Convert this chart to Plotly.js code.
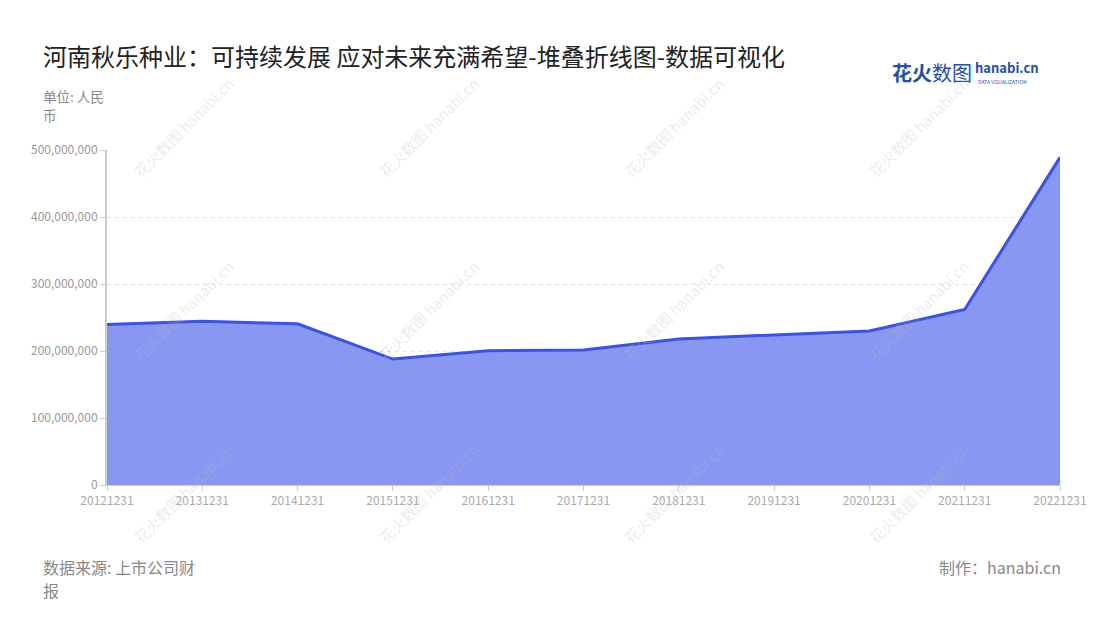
<!DOCTYPE html>
<html>
<head>
<meta charset="utf-8">
<script src="https://cdn.plot.ly/plotly-3.0.1.min.js"></script>
<style>
html,body{margin:0;padding:0;background:#fff;}
#chart{width:1100px;height:620px;}
</style>
</head>
<body>
<div id="chart"></div>
<script>
var categories = ["20121231","20131231","20141231","20151231","20161231","20171231","20181231","20191231","20201231","20211231","20221231"];
var values = [239500000, 244500000, 240500000, 188000000, 200500000, 201500000, 218000000, 224000000, 230000000, 262000000, 489000000];
var yTicks = [0, 100000000, 200000000, 300000000, 400000000, 500000000];

var FONT = '"Noto Sans CJK SC", "Noto Sans", sans-serif';

var trace = {
  type: 'scatter',
  mode: 'lines',
  x: categories,
  y: values,
  fill: 'tozeroy',
  fillcolor: 'rgb(136,151,241)',
  line: {color: 'rgb(58,82,232)', width: 3},
  hoverinfo: 'x+y'
};

function px2x(px){ return (px - 107) / (1060 - 107); }
function py2y(py){ return (485 - py) / (485 - 150); }

function note(text, px, py, anchor, size, color){
  return {text: text, xref: 'paper', yref: 'paper', x: px2x(px), y: py2y(py), xanchor: anchor, yanchor: 'middle', borderpad: 0, showarrow: false, font: {family: FONT, size: size, color: color}};
}

var annotations = [
  note('河南秋乐种业：可持续发展 应对未来充满希望-堆叠折线图-数据可视化', 42, 55, 'left', 24, '#222'),
  note('单位: 人民', 42, 96, 'left', 13.5, '#888'),
  note('币', 42, 115, 'left', 13.5, '#888'),
  note('数据来源: 上市公司财', 42, 567, 'left', 16, '#888'),
  note('报', 42, 590, 'left', 16, '#888'),
  note('制作：hanabi.cn', 1062, 567, 'right', 16, '#888'),
  note('<b>花火</b>数图', 891, 73, 'left', 20, '#1f4fb0'),
  note('<b>hanabi.cn</b>', 974, 68, 'left', 13, '#1f4fb0'),
  note('DATA VISUALIZATION', 977, 82, 'left', 5, '#1f4fb0')
];

// faint watermarks
var wmX = [183, 428, 673, 918];
var wmY = [127, 310, 493];
wmX.forEach(function(px){
  wmY.forEach(function(py){
    annotations.push({
      text: '花火数图 hanabi.cn',
      xref: 'paper', yref: 'paper',
      x: px2x(px),
      y: py2y(py),
      xanchor: 'center', yanchor: 'middle',
      textangle: -45, showarrow: false,
      font: {family: FONT, size: 15, color: 'rgba(190,190,190,0.3)'}
    });
  });
});

var layout = {
  width: 1100,
  height: 620,
  paper_bgcolor: '#fff',
  plot_bgcolor: '#fff',
  margin: {l: 107, r: 40, t: 150, b: 135},
  showlegend: false,
  font: {family: FONT, color: '#999'},
  xaxis: {
    type: 'category',
    range: [0, categories.length - 1],
    showgrid: false,
    showline: true,
    linecolor: '#ccc',
    linewidth: 1,
    ticks: 'outside',
    ticklen: 5,
    tickcolor: '#ccc',
    tickfont: {family: FONT, size: 12, color: '#aaa'},
    zeroline: false,
    fixedrange: true
  },
  yaxis: {
    range: [0, 500000000],
    tickvals: yTicks,
    tickformat: ',d',
    showgrid: true,
    gridcolor: '#e4e4e4',
    griddash: '4px,4px',
    gridwidth: 1,
    showline: true,
    linecolor: '#ccc',
    linewidth: 2,
    ticks: 'outside',
    ticklen: 5,
    tickcolor: '#ccc',
    tickfont: {family: FONT, size: 12, color: '#999'},
    zeroline: false,
    fixedrange: true
  },
  annotations: annotations
};

Plotly.newPlot('chart', [trace], layout, {displayModeBar: false});
</script>
</body>
</html>
